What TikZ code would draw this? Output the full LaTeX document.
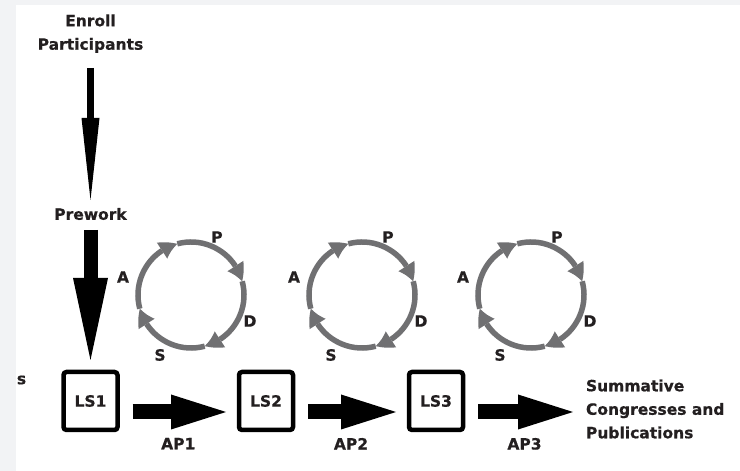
\documentclass[tikz,border=0pt]{standalone}
\usepackage{fontspec}
\setmainfont[BoldFeatures={FakeBold=0.6}]{DejaVu Sans}
\usepackage{xcolor}
\usepackage{tikz}
\usetikzlibrary{arrows.meta, bending, positioning}
\definecolor{ink}{RGB}{35,31,32}
\definecolor{cyclegray}{RGB}{112,112,114}
\definecolor{pagegray}{RGB}{242,243,245}

\begin{document}
\begin{tikzpicture}[x=1pt, y=1pt, font=\fontsize{15.5}{23.5}\selectfont\bfseries,
  txt/.style={text=ink, inner sep=0pt, outer sep=0pt},
  lsbox/.style={draw=black, line width=4.5pt, rounded corners=3pt, minimum width=54pt, minimum height=58pt, inner sep=0pt, outer sep=0pt, text=ink},
  aparrow/.style={draw=black, line width=15pt, -{Triangle[length=55pt, width=35pt, line width=0pt]}, shorten <=15pt, shorten >=13pt},
  cyc/.style={draw=cyclegray, line width=5.5pt, -{Triangle[length=17pt, width=19pt, line width=0pt, bend]}}]
  \fill[pagegray] (0,0) rectangle (740,471);
  \fill[white] (16,0) rectangle (740,466);
  \useasboundingbox (0,0) rectangle (740,471);
  % Enrollment and prework
  \node[txt, align=center] (enroll) at (90.5,437.3) {Enroll\\Participants};
  \node[txt] (prework) at (90.5,257) {Prework};
  \node[txt] (cut) at (21.5,91) {s};
  % Learning sessions
  \node[lsbox] (ls1) at (90.5,70) {LS1};
  \node[lsbox] (ls2) at (266,70) {LS2};
  \node[lsbox] (ls3) at (436,70) {LS3};
  \node[txt, align=left, anchor=west] (sum) at (586,62) {Summative\\Congresses and\\Publications};
  \draw[line width=7pt, -{Triangle[length=82pt, width=18pt, line width=0pt]}, shorten <=15pt, shorten >=8pt] (enroll) -- (prework);
  \draw[line width=14pt, -{Triangle[length=82pt, width=35pt, line width=0pt]}, shorten <=10pt, shorten >=12pt] (prework) -- (ls1);
  % Action periods
  \coordinate (ap3s) at ([yshift=-11pt]ls3.east);
  \draw[aparrow] ([yshift=-11pt]ls1.east) -- node[txt, midway, below=26pt] (ap1) {AP1} ([yshift=-11pt]ls2.west);
  \draw[aparrow] ([yshift=-11pt]ls2.east) -- node[txt, midway, below=26pt] (ap2) {AP2} ([yshift=-11pt]ls3.west);
  \draw[aparrow] (ap3s) -- node[txt, midway, below=26pt] (ap3) {AP3} (ap3s -| sum.west);
  % PDSA cycles
  \coordinate (c1) at (191,176);
  \coordinate (c2) at (362,176);
  \coordinate (c3) at (531,176);
  \draw[cyc] ([shift={(195:53)}]c1) arc[start angle=195, end angle=105, radius=53];
  \draw[cyc] ([shift={(105:53)}]c1) arc[start angle=105, end angle=15, radius=53];
  \draw[cyc] ([shift={(15:53)}]c1) arc[start angle=15, end angle=-75, radius=53];
  \draw[cyc] ([shift={(-75:53)}]c1) arc[start angle=-75, end angle=-165, radius=53];
  \draw[cyc] ([shift={(195:53)}]c2) arc[start angle=195, end angle=105, radius=53];
  \draw[cyc] ([shift={(105:53)}]c2) arc[start angle=105, end angle=15, radius=53];
  \draw[cyc] ([shift={(15:53)}]c2) arc[start angle=15, end angle=-75, radius=53];
  \draw[cyc] ([shift={(-75:53)}]c2) arc[start angle=-75, end angle=-165, radius=53];
  \draw[cyc] ([shift={(195:53)}]c3) arc[start angle=195, end angle=105, radius=53];
  \draw[cyc] ([shift={(105:53)}]c3) arc[start angle=105, end angle=15, radius=53];
  \draw[cyc] ([shift={(15:53)}]c3) arc[start angle=15, end angle=-75, radius=53];
  \draw[cyc] ([shift={(-75:53)}]c3) arc[start angle=-75, end angle=-165, radius=53];
  \node[txt] (p1) at ([shift={(26,58)}]c1) {P};
  \node[txt] (a1) at ([shift={(-68,18)}]c1) {A};
  \node[txt] (d1) at ([shift={(59,-26)}]c1) {D};
  \node[txt] (s1) at ([shift={(-31,-60)}]c1) {S};
  \node[txt] (p2) at ([shift={(26,58)}]c2) {P};
  \node[txt] (a2) at ([shift={(-68,18)}]c2) {A};
  \node[txt] (d2) at ([shift={(59,-26)}]c2) {D};
  \node[txt] (s2) at ([shift={(-31,-60)}]c2) {S};
  \node[txt] (p3) at ([shift={(26,58)}]c3) {P};
  \node[txt] (a3) at ([shift={(-68,18)}]c3) {A};
  \node[txt] (d3) at ([shift={(59,-26)}]c3) {D};
  \node[txt] (s3) at ([shift={(-31,-60)}]c3) {S};
\end{tikzpicture}
\end{document}
